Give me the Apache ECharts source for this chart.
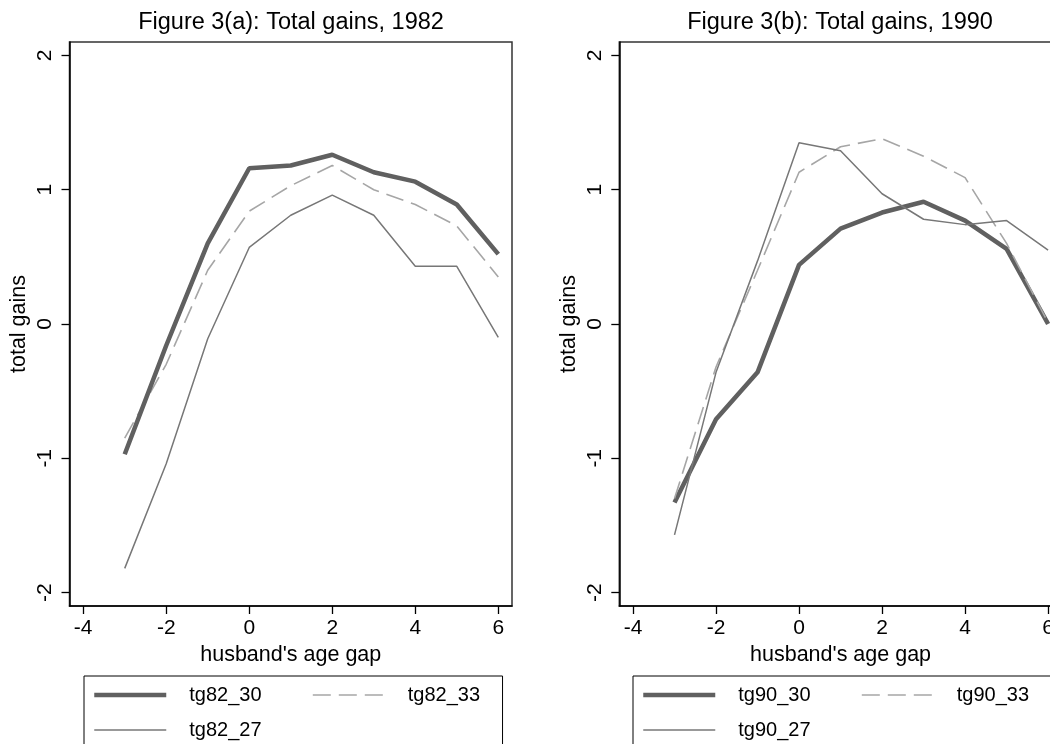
<!DOCTYPE html>
<html>
<head>
<meta charset="utf-8">
<script src="https://cdn.jsdelivr.net/npm/echarts@6/dist/echarts.min.js"></script>
<style>
  html, body { margin: 0; padding: 0; background: #fff; }
  #chart { width: 1050px; height: 744px; }
</style>
</head>
<body>
<div id="chart"></div>
<script>
// Husband's age gap (years) on the horizontal axis
const ageGap = [-3, -2, -1, 0, 1, 2, 3, 4, 5, 6];
const xTicks = [-4, -2, 0, 2, 4, 6];
const yTicks = [-2, -1, 0, 1, 2];

// Total gains, 1982
const tg82_30 = [-0.97, -0.16, 0.60, 1.16, 1.18, 1.26, 1.13, 1.06, 0.89, 0.52];
const tg82_33 = [-0.85, -0.30, 0.40, 0.84, 1.03, 1.18, 1.00, 0.89, 0.73, 0.35];
const tg82_27 = [-1.82, -1.04, -0.11, 0.57, 0.81, 0.96, 0.81, 0.43, 0.43, -0.10];

// Total gains, 1990
const tg90_30 = [-1.33, -0.71, -0.36, 0.44, 0.71, 0.83, 0.91, 0.77, 0.56, 0.00];
const tg90_33 = [-1.30, -0.32, 0.40, 1.13, 1.32, 1.38, 1.25, 1.09, 0.60, 0.01];
const tg90_27 = [-1.57, -0.36, 0.47, 1.35, 1.29, 0.97, 0.78, 0.74, 0.77, 0.55];

const FONT = '"Liberation Sans", Arial, Helvetica, sans-serif';
const THICK = { color: '#606060', width: 4.5, type: 'solid' };
const DASH  = { color: '#a6a6a6', width: 1.6, type: [18, 8] };
const THIN  = { color: '#777777', width: 1.5, type: 'solid' };

const pairs = arr => ageGap.map((x, i) => [x, arr[i]]);

function xAxisFor(idx) {
  return {
    gridIndex: idx, type: 'value', min: -4.33, max: 6.33,
    splitLine: { show: false },
    axisLine: { show: true, onZero: false, lineStyle: { color: '#000', width: 1.5 } },
    axisTick: { show: true, customValues: xTicks, length: 8, lineStyle: { color: '#000', width: 1.3 } },
    axisLabel: { customValues: xTicks, margin: 12, fontSize: 21, color: '#000', fontFamily: FONT },
    name: "husband's age gap", nameLocation: 'middle', nameGap: 30,
    nameTextStyle: { fontSize: 21.5, color: '#000', fontFamily: FONT }
  };
}
function yAxisFor(idx) {
  return {
    gridIndex: idx, type: 'value', min: -2.1, max: 2.1,
    splitLine: { show: false },
    axisLine: { show: true, onZero: false, lineStyle: { color: '#000', width: 1.5 } },
    axisTick: { show: true, customValues: yTicks, length: 8, lineStyle: { color: '#000', width: 1.3 } },
    axisLabel: { customValues: yTicks, rotate: 90, margin: 14, fontSize: 21, color: '#000', fontFamily: FONT },
    name: 'total gains', nameLocation: 'middle', nameGap: 39, nameRotate: 90,
    nameMoveOverlap: false,
    nameTextStyle: { fontSize: 21.5, color: '#000', fontFamily: FONT }
  };
}
function lineSeries(name, arr, style, idx, z) {
  return {
    name: name, type: 'line', xAxisIndex: idx, yAxisIndex: idx,
    data: pairs(arr), symbol: 'none', showSymbol: false, silent: true,
    lineStyle: style, itemStyle: { color: style.color }, z: z
  };
}
const legendText = { fontSize: 20, lineHeight: 22, color: '#000', fontFamily: FONT, padding: [0, 0, 0, 18] };
const legendCommon = {
  orient: 'vertical', height: 120, itemWidth: 72, itemHeight: 14,
  selectedMode: false, textStyle: legendText,
  itemStyle: { opacity: 0 },
  lineStyle: { width: 'inherit', opacity: 1 }
};
function legendBox(left, names, padRight) {
  return Object.assign({}, legendCommon, {
    left: left, top: 676, data: names,
    padding: [8, padRight, 30, 8], itemGap: 13,
    borderColor: '#000', borderWidth: 1, backgroundColor: 'transparent'
  });
}
function legendSide(left, names) {
  return Object.assign({}, legendCommon, {
    left: left, top: 684, data: names, padding: 0
  });
}

const chart = echarts.init(document.getElementById('chart'), null, { renderer: 'canvas' });
chart.setOption({
  animation: false,
  backgroundColor: '#fff',
  title: [
    { text: 'Figure 3(a): Total gains, 1982', left: 291, top: 12, textAlign: 'center', padding: 0,
      textStyle: { fontSize: 23.5, lineHeight: 22, fontWeight: 'normal', color: '#000', fontFamily: FONT } },
    { text: 'Figure 3(b): Total gains, 1990', left: 840, top: 12, textAlign: 'center', padding: 0,
      textStyle: { fontSize: 23.5, lineHeight: 22, fontWeight: 'normal', color: '#000', fontFamily: FONT } }
  ],
  grid: [
    { left: 69.5, top: 42, width: 442.5, height: 564, show: true, borderColor: '#333', borderWidth: 1.5,
      backgroundColor: '#fff', containLabel: false, outerBoundsMode: 'none' },
    { left: 619.3, top: 42, width: 442.5, height: 564, show: true, borderColor: '#333', borderWidth: 1.5,
      backgroundColor: '#fff', containLabel: false, outerBoundsMode: 'none' }
  ],
  xAxis: [xAxisFor(0), xAxisFor(1)],
  yAxis: [yAxisFor(0), yAxisFor(1)],
  legend: [
    legendBox(84, ['tg82_30', 'tg82_27'], 241),
    legendSide(312, ['tg82_33']),
    legendBox(633, ['tg90_30', 'tg90_27'], 240),
    legendSide(861, ['tg90_33'])
  ],
  series: [
    lineSeries('tg82_27', tg82_27, THIN, 0, 2),
    lineSeries('tg82_33', tg82_33, DASH, 0, 3),
    lineSeries('tg82_30', tg82_30, THICK, 0, 4),
    lineSeries('tg90_30', tg90_30, THICK, 1, 2),
    lineSeries('tg90_33', tg90_33, DASH, 1, 3),
    lineSeries('tg90_27', tg90_27, THIN, 1, 4)
  ]
});
</script>
</body>
</html>
